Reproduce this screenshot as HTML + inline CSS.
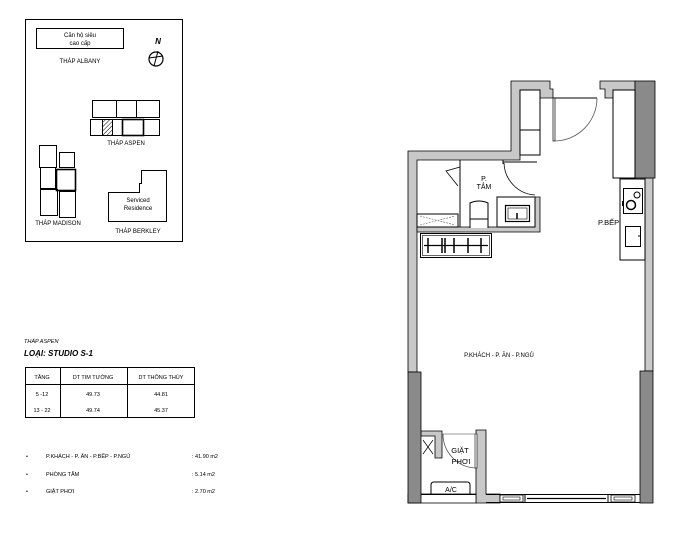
<!DOCTYPE html>
<html><head><meta charset="utf-8"><style>
html,body{margin:0;padding:0;background:#fff;}
svg{display:block;font-family:"Liberation Sans",sans-serif;}
</style></head><body>
<svg width="676" height="549" viewBox="0 0 676 549" xmlns="http://www.w3.org/2000/svg">
<defs><pattern id="h" width="3" height="3" patternUnits="userSpaceOnUse" patternTransform="rotate(45)"><line x1="0" y1="0" x2="0" y2="3" stroke="#000" stroke-width="1"/></pattern></defs>
<!-- key map -->
<rect x="25.5" y="19.5" width="157" height="222" fill="none" stroke="#000" stroke-width="1"/>
<rect x="36.5" y="28.5" width="87" height="20" fill="none" stroke="#000"/>
<text x="80" y="37" font-size="6" text-anchor="middle">Căn hộ siêu</text>
<text x="80" y="45" font-size="6" text-anchor="middle">cao cấp</text>
<text x="80" y="63" font-size="6" text-anchor="middle">THÁP ALBANY</text>
<text x="158" y="44" font-size="8" font-weight="bold" font-style="italic" text-anchor="middle">N</text>
<circle cx="156" cy="59" r="7" fill="none" stroke="#000" stroke-width="1.2"/>
<path d="M149 58 L163 56 M158 51 L154 66" stroke="#000" fill="none"/>
<rect x="92.5" y="100.5" width="24" height="17" fill="none" stroke="#000"/>
<rect x="116.5" y="100.5" width="20" height="17" fill="none" stroke="#000"/>
<rect x="136.5" y="100.5" width="23" height="17" fill="none" stroke="#000"/>
<rect x="90.5" y="119.5" width="12" height="16" fill="none" stroke="#000"/>
<rect x="102.5" y="119.5" width="10" height="16" fill="url(#h)" stroke="#000"/>
<rect x="112.5" y="119.5" width="10" height="16" fill="none" stroke="#000"/>
<rect x="122.5" y="119.5" width="21" height="16" fill="none" stroke="#000" stroke-width="1.6"/>
<rect x="143.5" y="119.5" width="16" height="16" fill="none" stroke="#000"/>
<text x="126" y="145" font-size="6" text-anchor="middle">THÁP ASPEN</text>
<rect x="39.5" y="145.5" width="17" height="22" fill="none" stroke="#000"/>
<rect x="59.5" y="152.5" width="15" height="15" fill="none" stroke="#000"/>
<rect x="40.5" y="167.5" width="15" height="21" fill="none" stroke="#000"/>
<rect x="56.5" y="169.5" width="19" height="21" fill="none" stroke="#000" stroke-width="1.6"/>
<rect x="40.5" y="189.5" width="17" height="26" fill="none" stroke="#000"/>
<rect x="59.5" y="191.5" width="16" height="26" fill="none" stroke="#000"/>
<text x="58" y="225" font-size="6" text-anchor="middle">THÁP MADISON</text>
<path d="M108.5 221.5 V192.5 H139.5 V183.5 H141.5 V170.5 H166.5 V221.5 Z" fill="none" stroke="#000"/>
<text x="138" y="202" font-size="6" text-anchor="middle">Serviced</text>
<text x="138" y="210" font-size="6" text-anchor="middle">Residence</text>
<text x="138" y="233" font-size="6" text-anchor="middle">THÁP BERKLEY</text>
<!-- info -->
<text x="24" y="343" font-size="5.5" font-style="italic">THÁP ASPEN</text>
<text x="24" y="356" font-size="8" font-weight="bold" font-style="italic">LOẠI: STUDIO  S-1</text>
<rect x="25.5" y="367.5" width="169" height="50" fill="none" stroke="#000"/>
<line x1="25" y1="384.5" x2="195" y2="384.5" stroke="#000"/>
<line x1="60.5" y1="367" x2="60.5" y2="418" stroke="#000"/>
<line x1="127.5" y1="367" x2="127.5" y2="418" stroke="#000"/>
<g font-size="5.5" text-anchor="middle">
<text x="42" y="379">TẦNG</text><text x="93" y="379">DT TIM TƯỜNG</text><text x="161" y="379">DT THÔNG THỦY</text>
<text x="42" y="396">5 -12</text><text x="93" y="396">49.73</text><text x="161" y="396">44.81</text>
<text x="42" y="412">13 - 22</text><text x="93" y="412">49.74</text><text x="161" y="412">45.37</text>
</g>
<g font-size="5.5">
<text x="26" y="458">•</text><text x="46" y="458">P.KHÁCH - P. ĂN - P.BẾP - P.NGỦ</text><text x="192" y="458">: 41.90 m2</text>
<text x="26" y="476">•</text><text x="46" y="476">PHÒNG TẮM</text><text x="192" y="476">:  5.14 m2</text>
<text x="26" y="493">•</text><text x="46" y="493">GIẶT PHƠI</text><text x="192" y="493">:  2.70 m2</text>
</g>
<!-- plan walls -->
<g fill="#c8c8c8" stroke="#000" stroke-width="0.8">
<path d="M408 372 V151 H511 V81 H550 V89 H553 V98 H540 V90 H520 V160 H417 V372 Z"/>
<path d="M600 81 H635 V98 H613 V98 H605 V89 H600 Z"/>
<rect x="645" y="178" width="8" height="193"/>
<path d="M417 227 H535 V197 H540 V232 H417 Z"/>
<path d="M421 431 H442 V458 H435 V436 H421 Z"/>
<path d="M476 430 H486 V494 H500 V503 H476 Z"/>
<rect x="408" y="494" width="68" height="9" fill="#fff"/>
</g>
<g fill="#8a8a8a" stroke="#000" stroke-width="0.8">
<rect x="635" y="81" width="20" height="97"/>
<rect x="408" y="372" width="13" height="131"/>
<rect x="640" y="371" width="13" height="132"/>
</g>
<!-- column / cabinet -->
<g fill="#fff" stroke="#000" stroke-width="1">
<rect x="520" y="90" width="20" height="65"/>
<line x1="520" y1="130" x2="540" y2="130"/>
<rect x="613" y="90" width="22" height="88"/>
<rect x="620" y="179" width="25" height="81"/>
<rect x="623.5" y="188.5" width="19" height="25"/>
<rect x="625.5" y="226.5" width="15" height="20"/>
</g>
<circle cx="631" cy="205" r="4.5" fill="none" stroke="#000" stroke-width="1.5"/>
<circle cx="637" cy="195" r="3" fill="none" stroke="#000"/>
<rect x="622" y="201" width="2" height="5" fill="#000"/>
<line x1="638" y1="236" x2="641" y2="236" stroke="#000"/>
<!-- entry door -->
<line x1="553" y1="98" x2="597" y2="98" stroke="#000"/>
<rect x="553" y="98" width="2" height="43" fill="#fff" stroke="#000" stroke-width="0.7"/>
<path d="M555 141 A43 43 0 0 0 597 98" fill="none" stroke="#555" stroke-width="0.8"/>
<!-- bathroom -->
<line x1="460" y1="160" x2="460" y2="227" stroke="#000"/>
<path d="M460 167 L446 171 L458 186" fill="none" stroke="#000" stroke-width="0.8"/>
<rect x="417" y="214" width="41" height="13" fill="#fff" stroke="#000"/>
<path d="M420 216 L455 225 M420 225 L455 216" stroke="#666" stroke-dasharray="2,1" stroke-width="0.6"/>
<path d="M470 228 V203 Q479 199 488 203 V228" fill="#fff" stroke="#000"/>
<line x1="470" y1="219" x2="488" y2="219" stroke="#000"/>
<rect x="497" y="197" width="38" height="30" fill="#fff" stroke="#000"/>
<rect x="505.5" y="205.5" width="24" height="16" fill="none" stroke="#000" stroke-width="1.2"/>
<rect x="508" y="208" width="19" height="11" fill="none" stroke="#000" stroke-width="0.6"/>
<line x1="517" y1="213" x2="517" y2="219" stroke="#000" stroke-width="1.5"/>
<line x1="503" y1="162" x2="537" y2="162" stroke="#000"/>
<line x1="503" y1="160" x2="503" y2="164" stroke="#000"/>
<path d="M504 163 A33 33 0 0 0 535 195" fill="none" stroke="#000" stroke-width="0.8"/>
<text x="484" y="181" font-size="7" text-anchor="middle">P.</text>
<text x="484" y="189" font-size="7" text-anchor="middle">TẮM</text>
<!-- rack -->
<rect x="420.5" y="233.5" width="71" height="24" fill="#fff" stroke="#000"/>
<rect x="422.5" y="235.5" width="67" height="20" fill="none" stroke="#000" stroke-width="0.6"/>
<line x1="424" y1="245.5" x2="488" y2="245.5" stroke="#000" stroke-width="1.2"/>
<g stroke="#000" stroke-width="1.5"><line x1="428" y1="238" x2="428" y2="253"/><line x1="442" y1="238" x2="442" y2="253"/><line x1="445" y1="238" x2="445" y2="253"/><line x1="454" y1="238" x2="454" y2="253"/><line x1="468" y1="238" x2="468" y2="253"/><line x1="481" y1="238" x2="481" y2="253"/></g>
<text x="598" y="225" font-size="7.5">P.BẾP</text>
<text x="499" y="357" font-size="6" text-anchor="middle">P.KHÁCH - P. ĂN - P.NGỦ</text>
<!-- laundry -->
<path d="M423 440 L433 454 M433 440 L423 454" stroke="#000" stroke-width="0.7"/>
<rect x="475" y="434" width="2" height="34" fill="#fff" stroke="#000" stroke-width="0.6"/>
<line x1="443" y1="434" x2="476" y2="434" stroke="#777" stroke-width="0.8"/>
<path d="M443 434 A34 34 0 0 0 475 468" fill="none" stroke="#555" stroke-width="0.8"/>
<text x="460" y="453" font-size="7.5" text-anchor="middle">GIẶT</text>
<text x="461" y="464" font-size="7.5" text-anchor="middle">PHƠI</text>
<path d="M431 494 V485 Q431 482 434 482 H467 Q470 482 470 485 V494" fill="none" stroke="#000"/>
<text x="451" y="492" font-size="7" text-anchor="middle">A/C</text>
<line x1="421" y1="494.5" x2="476" y2="494.5" stroke="#000"/>
<!-- bottom window -->
<line x1="486" y1="494.5" x2="640" y2="494.5" stroke="#000"/>
<line x1="486" y1="502.5" x2="640" y2="502.5" stroke="#000"/>
<rect x="500" y="495" width="23" height="7" fill="#fff" stroke="#000" stroke-width="0.8"/>
<rect x="503" y="497" width="17" height="3" fill="none" stroke="#000" stroke-width="0.6"/>
<rect x="611" y="495" width="24" height="7" fill="#fff" stroke="#000" stroke-width="0.8"/>
<rect x="614" y="497" width="18" height="3" fill="none" stroke="#000" stroke-width="0.6"/>
<line x1="527" y1="498.5" x2="606" y2="498.5" stroke="#000" stroke-width="1.2"/>
<line x1="525" y1="495" x2="525" y2="502" stroke="#000"/>
<line x1="608" y1="495" x2="608" y2="502" stroke="#000"/>
</svg>
</body></html>
